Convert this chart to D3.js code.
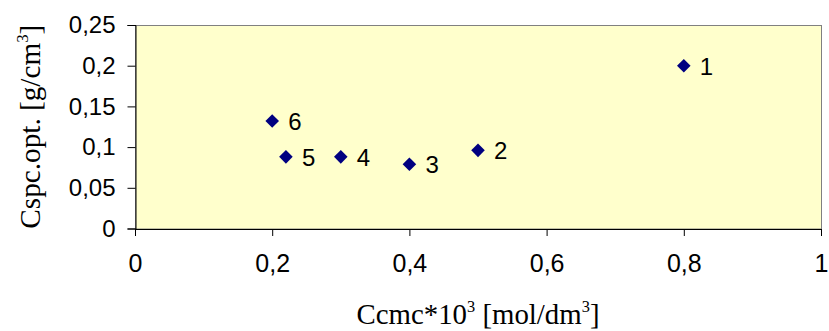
<!DOCTYPE html>
<html>
<head>
<meta charset="utf-8">
<script src="https://cdn.jsdelivr.net/npm/d3@7"></script>
<style>
body { margin: 0; background: #fff; }
svg { display: block; }
</style>
</head>
<body>
<div id="container"></div>
<script>
// dane
var pointLabels = ["1", "2", "3", "4", "5", "6"];
var ccmcValues = [0.8, 0.5, 0.4, 0.3, 0.22, 0.2];
var cspcValues = [0.2, 0.096, 0.079, 0.088, 0.088, 0.132];
var xTicks = [0, 0.2, 0.4, 0.6, 0.8, 1];
var xTickLabels = ["0", "0,2", "0,4", "0,6", "0,8", "1"];
var yTicks = [0, 0.05, 0.1, 0.15, 0.2, 0.25];
var yTickLabels = ["0", "0,05", "0,1", "0,15", "0,2", "0,25"];

var w = 829;
var h = 331;
var pLeft = 135, pRight = 821, pTop = 25, pBottom = 228.5;

var svg = d3.select("div#container")
            .append("svg")
            .attr("width", w)
            .attr("height", h);

var x = d3.scaleLinear().domain([0, 1]).range([pLeft, pRight]);
var y = d3.scaleLinear().domain([0, 0.25]).range([pBottom, pTop]);

// tlo wykresu
svg.append("rect")
    .attr("x", pLeft + 0.5)
    .attr("y", pTop + 0.5)
    .attr("width", pRight - pLeft)
    .attr("height", pBottom - pTop)
    .attr("fill", "#ffffcc")
    .attr("stroke", "#808080")
    .attr("stroke-width", 1);

// osie
var xAxis = d3.axisBottom(x)
    .tickValues(xTicks)
    .tickSize(7)
    .tickPadding(18)
    .tickFormat(function(d, i){ return xTickLabels[i]; });

var yAxis = d3.axisLeft(y)
    .tickValues(yTicks)
    .tickSize(8)
    .tickPadding(12)
    .tickFormat(function(d, i){ return yTickLabels[i]; });

var gx = svg.append("g")
    .attr("transform", "translate(0," + (pBottom + 0.5) + ")")
    .call(xAxis);

var gy = svg.append("g")
    .attr("transform", "translate(" + (pLeft + 0.5) + ",0)")
    .call(yAxis);

svg.selectAll(".domain").attr("stroke", "#000");
svg.selectAll(".tick line").attr("stroke", "#000");
svg.selectAll(".tick text")
    .attr("fill", "#000")
    .style("font-family", "'Liberation Sans', Arial, sans-serif");
gx.selectAll(".tick text").style("font-size", "25px");
gy.selectAll(".tick text").style("font-size", "24px");

// punkty
var pts = pointLabels.map(function(d, i){
    return { label: d, x: ccmcValues[i], y: cspcValues[i] };
});

svg.selectAll("path.pt")
    .data(pts)
    .enter()
    .append("path")
    .attr("class", "pt")
    .attr("d", d3.symbol().type(d3.symbolSquare).size(92))
    .attr("transform", function(d){
        return "translate(" + x(d.x) + "," + y(d.y) + ") rotate(45)";
    })
    .attr("fill", "#000080");

svg.selectAll("text.lbl")
    .data(pts)
    .enter()
    .append("text")
    .attr("class", "lbl")
    .attr("x", function(d){ return x(d.x) + 16; })
    .attr("y", function(d){ return y(d.y) + 9; })
    .style("font-family", "'Liberation Sans', Arial, sans-serif")
    .style("font-size", "24px")
    .attr("fill", "#000")
    .text(function(d){ return d.label; });

// tytuly osi
var xt = svg.append("text")
    .attr("x", (pLeft + pRight) / 2)
    .attr("y", 324)
    .attr("text-anchor", "middle")
    .attr("textLength", 243)
    .attr("lengthAdjust", "spacingAndGlyphs")
    .style("font-family", "'Liberation Serif', 'Times New Roman', serif")
    .style("font-size", "30px")
    .attr("fill", "#000");
xt.append("tspan").text("Ccmc*10");
xt.append("tspan").attr("dy", -12).style("font-size", "17px").text("3");
xt.append("tspan").attr("dy", 12).text(" [mol/dm");
xt.append("tspan").attr("dy", -12).style("font-size", "17px").text("3");
xt.append("tspan").attr("dy", 12).text("]");

var yt = svg.append("text")
    .attr("transform", "translate(40," + ((pTop + pBottom) / 2) + ") rotate(-90)")
    .attr("text-anchor", "middle")
    .attr("textLength", 204)
    .attr("lengthAdjust", "spacingAndGlyphs")
    .style("font-family", "'Liberation Serif', 'Times New Roman', serif")
    .style("font-size", "30px")
    .attr("fill", "#000");
yt.append("tspan").text("Cspc.opt. [g/cm");
yt.append("tspan").attr("dy", -12).style("font-size", "17px").text("3");
yt.append("tspan").attr("dy", 12).text("]");
</script>
</body>
</html>
